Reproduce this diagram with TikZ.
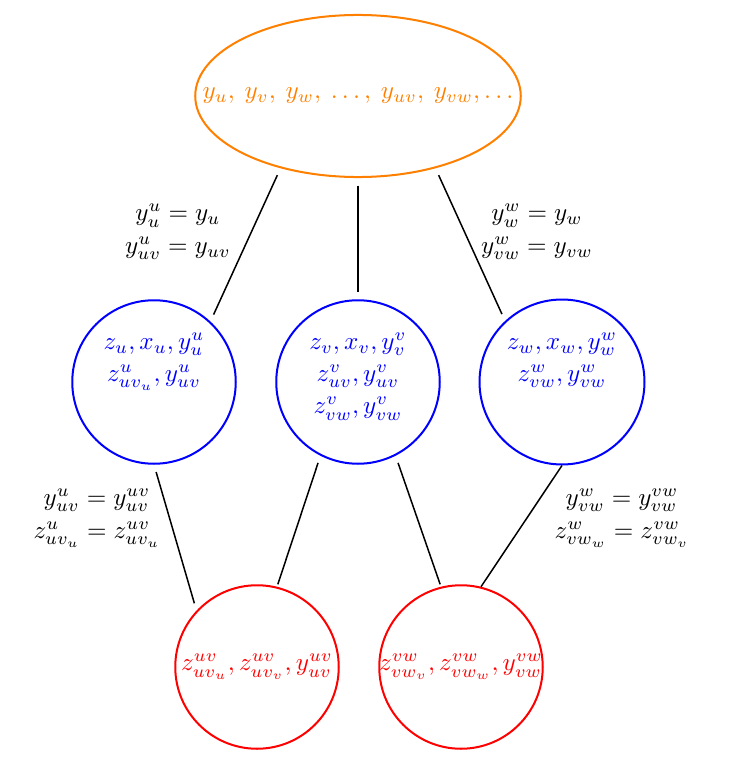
\documentclass[tikz,border=0pt]{standalone}
\usetikzlibrary{shapes.geometric}
\begin{document}
\begin{tikzpicture}[
  x=0.0140cm, y=-0.0140cm,
  dd03glob/.style = {draw=orange, text=orange, ellipse, thick, minimum width=4.56cm, minimum height=2.27cm, inner sep=0pt},
  dd03loc/.style = {draw=blue, text=blue, circle, thick, minimum size=2.29cm, inner sep=0pt},
  dd03cons/.style = {draw=red, text=red, circle, thick, minimum size=2.29cm, inner sep=0pt},
  dd03link/.style = {semithick, shorten >=3pt, shorten <=3pt},
  dd03lbl/.style = {align=center}
]
  \useasboundingbox (0,0) rectangle (737,757);
  % global copy
  \node[dd03glob] (glob) at (358,96) {\makebox[0pt]{$y_u,\: y_v,\: y_w,\: \ldots,\: y_{uv},\: y_{vw},\ldots$}};
  % local copies
  \node[dd03loc] (nu) at (154,382) {\raisebox{2.5pt}[\height][\depth]{$\begin{array}{c} z_u,x_u,y^u_u\\[0.8pt] z^u_{uv_u},y^u_{uv}\\[0.8pt] \mbox{}\end{array}$}};
  \node[dd03loc] (nv) at (358,382) {\raisebox{2.5pt}[\height][\depth]{$\begin{array}{c} z_v,x_v,y^v_v\\[0.8pt] z^v_{uv},y^v_{uv}\\[0.8pt] z^v_{vw},y^v_{vw}\end{array}$}};
  \node[dd03loc] (nw) at (562,382) {\raisebox{2.5pt}[\height][\depth]{$\begin{array}{c} z_w,x_w,y^w_w\\[0.8pt] z^w_{vw},y^w_{vw}\\[0.8pt] \mbox{}\end{array}$}};
  % edge copies
  \node[dd03cons] (euv) at (257,667) {\makebox[0pt]{$z^{uv}_{uv_u},z^{uv}_{uv_v},y^{uv}_{uv}$}};
  \node[dd03cons] (evw) at (461,667) {\makebox[0pt]{$z^{vw}_{vw_v},z^{vw}_{vw_w},y^{vw}_{vw}$}};
  % links
  \draw[dd03link] (glob.223) -- (nu.47);
  \draw[dd03link] (glob.south) -- (nv.north);
  \draw[dd03link] (glob.-43) -- (nw.133);
  \draw[dd03link] (nu.south) -- (euv.137);
  \draw[dd03link, shorten >=1pt] (nv.243) -- (euv.76);
  \draw[dd03link, shorten >=1pt] (nv.297) -- (evw.104);
  \draw[dd03link, shorten >=0pt, shorten <=0pt] (nw.south) -- (evw.76);
  % consensus constraints
  \node[dd03lbl] (cu) at (178,232) {$y^u_u=y_u$\\[1pt]$y^u_{uv}=y_{uv}$};
  \node[dd03lbl] (cw) at (537,232) {$y^w_w=y_w$\\[1pt]$y^w_{vw}=y_{vw}$};
  \node[dd03lbl] (cuv) at (97,518) {$y^u_{uv}=y^{uv}_{uv}$\\[1pt]$z^u_{uv_u}=z^{uv}_{uv_u}$};
  \node[dd03lbl] (cvw) at (622,518) {$y^w_{vw}=y^{vw}_{vw}$\\[1pt]$z^w_{vw_w}=z^{vw}_{vw_v}$};
\end{tikzpicture}
\end{document}
